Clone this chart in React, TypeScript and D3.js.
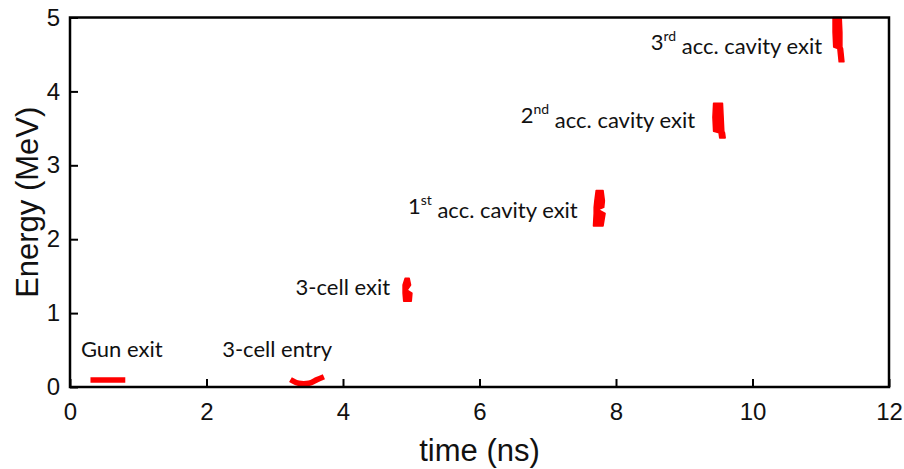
import React, { useEffect, useRef } from 'react';
import * as d3 from 'd3';

// bunch outlines: energy (MeV) with time span (ns) at that energy
const bunchExit3 = [
  { e: 5.0, t0: 11.18, t1: 11.30 },
  { e: 4.8, t0: 11.18, t1: 11.31 },
  { e: 4.6, t0: 11.19, t1: 11.31 },
  { e: 4.58, t0: 11.25, t1: 11.32 },
  { e: 4.4, t0: 11.27, t1: 11.34 },
];
const bunchExit2 = [
  { e: 3.84, t0: 9.43, t1: 9.56 },
  { e: 3.65, t0: 9.42, t1: 9.57 },
  { e: 3.46, t0: 9.43, t1: 9.58 },
  { e: 3.44, t0: 9.51, t1: 9.59 },
  { e: 3.37, t0: 9.52, t1: 9.6 },
];
const bunchExit1 = [
  { e: 2.66, t0: 7.71, t1: 7.81 },
  { e: 2.52, t0: 7.69, t1: 7.83 },
  { e: 2.43, t0: 7.68, t1: 7.82 },
  { e: 2.40, t0: 7.68, t1: 7.74 },
  { e: 2.35, t0: 7.68, t1: 7.84 },
  { e: 2.18, t0: 7.67, t1: 7.81 },
];
const bunchCellExit = [
  { e: 1.47, t0: 4.91, t1: 4.97 },
  { e: 1.38, t0: 4.88, t1: 4.99 },
  { e: 1.31, t0: 4.88, t1: 4.94 },
  { e: 1.27, t0: 4.88, t1: 5.01 },
  { e: 1.16, t0: 4.89, t1: 5.0 },
];
const bunches = [bunchExit3, bunchExit2, bunchExit1, bunchCellExit];

// thin bunches drawn as thick traces (time ns, energy MeV)
const gunExit = [
  { t: 0.3, e: 0.095 },
  { t: 0.81, e: 0.095 },
];
const cellEntry = [
  { t: 3.23, e: 0.1 },
  { t: 3.35, e: 0.05 },
  { t: 3.5, e: 0.05 },
  { t: 3.62, e: 0.1 },
  { t: 3.72, e: 0.14 },
];
const traces = [gunExit, cellEntry];

const labels = [
  { t: 0.16, e: 0.51, text: 'Gun exit', sup: '', rest: '', anchor: 'start' },
  { t: 2.23, e: 0.51, text: '3-cell entry', sup: '', rest: '', anchor: 'start' },
  { t: 4.69, e: 1.35, text: '3-cell exit', sup: '', rest: '', anchor: 'end' },
  { t: 7.44, e: 2.45, text: '1', sup: 'st', rest: ' acc. cavity exit', anchor: 'end' },
  { t: 9.16, e: 3.68, text: '2', sup: 'nd', rest: ' acc. cavity exit', anchor: 'end' },
  { t: 11.02, e: 4.67, text: '3', sup: 'rd', rest: ' acc. cavity exit', anchor: 'end' },
];

const xTicks = [0, 2, 4, 6, 8, 10, 12];
const yTicks = [0, 1, 2, 3, 4, 5];

const App = () => {
  const svgRef = useRef<SVGSVGElement>(null);

  useEffect(() => {
    const svg = d3.select(svgRef.current);
    svg.selectAll('*').remove();
    const left = 70, right = 889, top = 17.5, bottom = 387;

    const x = d3.scaleLinear().domain([0, 12]).range([left, right]);
    const y = d3.scaleLinear().domain([0, 5]).range([bottom, top]);
    const red = '#ff0000';

    // bunches
    const area = d3.area<any>()
      .y(d => y(d.e))
      .x0(d => x(d.t0))
      .x1(d => x(d.t1));
    bunches.forEach(b => {
      svg.append('path')
        .attr('d', area(b))
        .attr('fill', red)
        .attr('stroke', red)
        .attr('stroke-width', 1.5)
        .attr('stroke-linejoin', 'round');
    });

    const line = d3.line<any>()
      .x(d => x(d.t))
      .y(d => y(d.e))
      .curve(d3.curveCatmullRom);
    traces.forEach(tr => {
      svg.append('path')
        .attr('d', line(tr))
        .attr('fill', 'none')
        .attr('stroke', red)
        .attr('stroke-width', 5.5);
    });

    // labels
    labels.forEach(l => {
      const txt = svg.append('text')
        .attr('x', x(l.t))
        .attr('y', y(l.e))
        .attr('dy', '0.35em')
        .attr('text-anchor', l.anchor)
        .attr('font-family', 'Lato, "Open Sans", sans-serif')
        .attr('font-size', 22)
        .attr('fill', '#111');
      txt.append('tspan').text(l.text);
      if (l.sup) {
        txt.append('tspan')
          .attr('font-size', 14)
          .attr('dy', '-0.6em')
          .text(l.sup);
        txt.append('tspan')
          .attr('dy', '0.6em')
          .text(l.rest);
      }
    });

    // axes
    const xAxis = d3.axisBottom(x).tickValues(xTicks).tickSize(-8).tickPadding(16).tickFormat(d3.format('d'));
    const yAxis = d3.axisLeft(y).tickValues(yTicks).tickSize(-8).tickPadding(10).tickFormat(d3.format('d'));

    const gx = svg.append('g').attr('transform', `translate(0,${bottom})`).call(xAxis);
    const gy = svg.append('g').attr('transform', `translate(${left},0)`).call(yAxis);
    [gx, gy].forEach(g => {
      g.select('.domain').remove();
      g.selectAll('line').attr('stroke', '#000').attr('stroke-width', 2);
      g.selectAll('text')
        .attr('fill', '#111')
        .attr('font-family', 'Liberation Sans, Arial, sans-serif')
        .attr('font-size', 24);
    });
    gx.selectAll('text').attr('dy', '0.71em');

    // frame
    svg.append('rect')
      .attr('x', left)
      .attr('y', top)
      .attr('width', right - left)
      .attr('height', bottom - top)
      .attr('fill', 'none')
      .attr('stroke', '#000')
      .attr('stroke-width', 2.5);

    svg.append('text')
      .attr('x', (left + right) / 2)
      .attr('y', 461)
      .attr('text-anchor', 'middle')
      .attr('font-family', 'Liberation Sans, Arial, sans-serif')
      .attr('font-size', 31)
      .attr('fill', '#111')
      .text('time (ns)');

    svg.append('text')
      .attr('transform', `translate(38,${(top + bottom) / 2}) rotate(-90)`)
      .attr('text-anchor', 'middle')
      .attr('font-family', 'Liberation Sans, Arial, sans-serif')
      .attr('font-size', 31)
      .attr('fill', '#111')
      .text('Energy (MeV)');
  }, []);

  return (
    <svg ref={svgRef} width={904} height={469}
      style={{ position: 'absolute', left: 0, top: 0, background: '#fff' }} />
  );
};

export default App;
